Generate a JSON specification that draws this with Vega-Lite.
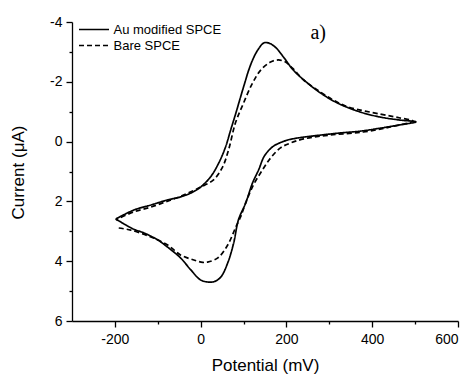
{
  "$schema": "https://vega.github.io/schema/vega-lite/v6.json",
  "width": 386,
  "height": 299,
  "autosize": {"type": "none"},
  "padding": {"left": 72, "top": 22, "right": 14, "bottom": 53},
  "background": "white",
  "config": {
    "view": {"stroke": null},
    "font": "Liberation Sans",
    "axis": {
      "domainColor": "black",
      "domainWidth": 1.3,
      "tickColor": "black",
      "tickWidth": 1.3,
      "tickSize": 6,
      "labelFontSize": 14,
      "labelColor": "black",
      "labelFont": "Liberation Sans",
      "titleFont": "Liberation Sans",
      "titleFontSize": 17,
      "titleFontWeight": "normal",
      "titleColor": "black",
      "grid": false
    }
  },
  "datasets": {
    "cv": [
      {"s": "Au modified SPCE", "i": 0, "x": -198, "y": 2.59},
      {"s": "Au modified SPCE", "i": 1, "x": -156, "y": 2.29},
      {"s": "Au modified SPCE", "i": 2, "x": -116, "y": 2.12},
      {"s": "Au modified SPCE", "i": 3, "x": -77, "y": 1.95},
      {"s": "Au modified SPCE", "i": 4, "x": -47, "y": 1.85},
      {"s": "Au modified SPCE", "i": 5, "x": -20, "y": 1.7},
      {"s": "Au modified SPCE", "i": 6, "x": 0, "y": 1.52},
      {"s": "Au modified SPCE", "i": 7, "x": 23, "y": 1.18},
      {"s": "Au modified SPCE", "i": 8, "x": 42, "y": 0.72},
      {"s": "Au modified SPCE", "i": 9, "x": 58, "y": 0.18},
      {"s": "Au modified SPCE", "i": 10, "x": 70, "y": -0.39},
      {"s": "Au modified SPCE", "i": 11, "x": 82, "y": -0.95},
      {"s": "Au modified SPCE", "i": 12, "x": 93, "y": -1.49},
      {"s": "Au modified SPCE", "i": 13, "x": 103, "y": -1.97},
      {"s": "Au modified SPCE", "i": 14, "x": 112, "y": -2.39},
      {"s": "Au modified SPCE", "i": 15, "x": 122, "y": -2.76},
      {"s": "Au modified SPCE", "i": 16, "x": 133, "y": -3.06},
      {"s": "Au modified SPCE", "i": 17, "x": 147, "y": -3.3},
      {"s": "Au modified SPCE", "i": 18, "x": 158, "y": -3.3},
      {"s": "Au modified SPCE", "i": 19, "x": 174, "y": -3.16},
      {"s": "Au modified SPCE", "i": 20, "x": 193, "y": -2.83},
      {"s": "Au modified SPCE", "i": 21, "x": 216, "y": -2.39},
      {"s": "Au modified SPCE", "i": 22, "x": 249, "y": -1.96},
      {"s": "Au modified SPCE", "i": 23, "x": 279, "y": -1.63},
      {"s": "Au modified SPCE", "i": 24, "x": 319, "y": -1.29},
      {"s": "Au modified SPCE", "i": 25, "x": 372, "y": -0.99},
      {"s": "Au modified SPCE", "i": 26, "x": 419, "y": -0.82},
      {"s": "Au modified SPCE", "i": 27, "x": 465, "y": -0.72},
      {"s": "Au modified SPCE", "i": 28, "x": 502, "y": -0.66},
      {"s": "Au modified SPCE", "i": 29, "x": 465, "y": -0.56},
      {"s": "Au modified SPCE", "i": 30, "x": 419, "y": -0.45},
      {"s": "Au modified SPCE", "i": 31, "x": 372, "y": -0.35},
      {"s": "Au modified SPCE", "i": 32, "x": 326, "y": -0.29},
      {"s": "Au modified SPCE", "i": 33, "x": 263, "y": -0.19},
      {"s": "Au modified SPCE", "i": 34, "x": 226, "y": -0.12},
      {"s": "Au modified SPCE", "i": 35, "x": 202, "y": -0.05},
      {"s": "Au modified SPCE", "i": 36, "x": 185, "y": 0.04},
      {"s": "Au modified SPCE", "i": 37, "x": 170, "y": 0.15},
      {"s": "Au modified SPCE", "i": 38, "x": 157, "y": 0.32},
      {"s": "Au modified SPCE", "i": 39, "x": 147, "y": 0.52},
      {"s": "Au modified SPCE", "i": 40, "x": 135, "y": 0.95},
      {"s": "Au modified SPCE", "i": 41, "x": 121, "y": 1.38},
      {"s": "Au modified SPCE", "i": 42, "x": 105, "y": 2.05},
      {"s": "Au modified SPCE", "i": 43, "x": 88, "y": 2.62},
      {"s": "Au modified SPCE", "i": 44, "x": 77, "y": 3.39},
      {"s": "Au modified SPCE", "i": 45, "x": 63, "y": 4.06},
      {"s": "Au modified SPCE", "i": 46, "x": 47, "y": 4.53},
      {"s": "Au modified SPCE", "i": 47, "x": 32, "y": 4.68},
      {"s": "Au modified SPCE", "i": 48, "x": 19, "y": 4.7},
      {"s": "Au modified SPCE", "i": 49, "x": 0, "y": 4.63},
      {"s": "Au modified SPCE", "i": 50, "x": -23, "y": 4.29},
      {"s": "Au modified SPCE", "i": 51, "x": -47, "y": 3.89},
      {"s": "Au modified SPCE", "i": 52, "x": -77, "y": 3.53},
      {"s": "Au modified SPCE", "i": 53, "x": -100, "y": 3.29},
      {"s": "Au modified SPCE", "i": 54, "x": -133, "y": 3.05},
      {"s": "Au modified SPCE", "i": 55, "x": -156, "y": 2.93},
      {"s": "Au modified SPCE", "i": 56, "x": -198, "y": 2.59},
      {"s": "Bare SPCE", "i": 0, "x": -191, "y": 2.89},
      {"s": "Bare SPCE", "i": 1, "x": -163, "y": 2.96},
      {"s": "Bare SPCE", "i": 2, "x": -116, "y": 3.19},
      {"s": "Bare SPCE", "i": 3, "x": -77, "y": 3.46},
      {"s": "Bare SPCE", "i": 4, "x": -47, "y": 3.79},
      {"s": "Bare SPCE", "i": 5, "x": -16, "y": 3.96},
      {"s": "Bare SPCE", "i": 6, "x": 5, "y": 4.04},
      {"s": "Bare SPCE", "i": 7, "x": 16, "y": 4.03},
      {"s": "Bare SPCE", "i": 8, "x": 40, "y": 3.89},
      {"s": "Bare SPCE", "i": 9, "x": 63, "y": 3.46},
      {"s": "Bare SPCE", "i": 10, "x": 81, "y": 2.89},
      {"s": "Bare SPCE", "i": 11, "x": 93, "y": 2.52},
      {"s": "Bare SPCE", "i": 12, "x": 105, "y": 2.05},
      {"s": "Bare SPCE", "i": 13, "x": 123, "y": 1.45},
      {"s": "Bare SPCE", "i": 14, "x": 144, "y": 0.95},
      {"s": "Bare SPCE", "i": 15, "x": 163, "y": 0.55},
      {"s": "Bare SPCE", "i": 16, "x": 186, "y": 0.21},
      {"s": "Bare SPCE", "i": 17, "x": 209, "y": 0.05},
      {"s": "Bare SPCE", "i": 18, "x": 240, "y": -0.09},
      {"s": "Bare SPCE", "i": 19, "x": 302, "y": -0.22},
      {"s": "Bare SPCE", "i": 20, "x": 379, "y": -0.32},
      {"s": "Bare SPCE", "i": 21, "x": 442, "y": -0.49},
      {"s": "Bare SPCE", "i": 22, "x": 495, "y": -0.69},
      {"s": "Bare SPCE", "i": 23, "x": 465, "y": -0.79},
      {"s": "Bare SPCE", "i": 24, "x": 419, "y": -0.92},
      {"s": "Bare SPCE", "i": 25, "x": 344, "y": -1.16},
      {"s": "Bare SPCE", "i": 26, "x": 309, "y": -1.39},
      {"s": "Bare SPCE", "i": 27, "x": 272, "y": -1.73},
      {"s": "Bare SPCE", "i": 28, "x": 240, "y": -2.06},
      {"s": "Bare SPCE", "i": 29, "x": 214, "y": -2.46},
      {"s": "Bare SPCE", "i": 30, "x": 198, "y": -2.66},
      {"s": "Bare SPCE", "i": 31, "x": 181, "y": -2.73},
      {"s": "Bare SPCE", "i": 32, "x": 163, "y": -2.66},
      {"s": "Bare SPCE", "i": 33, "x": 140, "y": -2.39},
      {"s": "Bare SPCE", "i": 34, "x": 121, "y": -1.96},
      {"s": "Bare SPCE", "i": 35, "x": 100, "y": -1.29},
      {"s": "Bare SPCE", "i": 36, "x": 81, "y": -0.62},
      {"s": "Bare SPCE", "i": 37, "x": 65, "y": 0.28},
      {"s": "Bare SPCE", "i": 38, "x": 51, "y": 0.85},
      {"s": "Bare SPCE", "i": 39, "x": 30, "y": 1.28},
      {"s": "Bare SPCE", "i": 40, "x": 0, "y": 1.52},
      {"s": "Bare SPCE", "i": 41, "x": -40, "y": 1.79},
      {"s": "Bare SPCE", "i": 42, "x": -77, "y": 1.99},
      {"s": "Bare SPCE", "i": 43, "x": -116, "y": 2.19},
      {"s": "Bare SPCE", "i": 44, "x": -156, "y": 2.35},
      {"s": "Bare SPCE", "i": 45, "x": -198, "y": 2.62}
    ],
    "ann": [{"x": 274, "y": -3.63, "label": "a)"}]
  },
  "layer": [
    {
      "data": {"name": "cv"},
      "mark": {"type": "line", "interpolate": "catmull-rom", "color": "black", "strokeWidth": 1.7},
      "encoding": {
        "x": {
          "field": "x", "type": "quantitative",
          "scale": {"domain": [-300, 600], "nice": false, "zero": false},
          "axis": {"orient": "bottom", "values": [-200, 0, 200, 400, 600], "labelExpr": "'' + datum.value", "labelPadding": 5, "title": "Potential (mV)", "titleY": 49, "titleBaseline": "alphabetic"}
        },
        "y": {
          "field": "y", "type": "quantitative",
          "scale": {"domain": [-4, 6], "reverse": true, "nice": false, "zero": false},
          "axis": {"orient": "left", "values": [-4, -2, 0, 2, 4, 6], "labelExpr": "'' + datum.value", "labelPadding": 4, "title": "Current (μA)", "titleX": -54, "titleY": 150, "titleAlign": "center", "titleBaseline": "middle", "titleAngle": -90}
        },
        "strokeDash": {
          "field": "s", "type": "nominal",
          "scale": {"domain": ["Au modified SPCE", "Bare SPCE"], "range": [[1, 0], [5, 3]]},
          "legend": {"orient": "none", "legendX": 13.5, "legendY": -1, "title": null, "padding": 0, "symbolType": "M-2,0H2", "symbolSize": 225, "symbolStrokeWidth": 1.6, "symbolStrokeColor": "black", "symbolFillColor": "transparent", "labelFontSize": 13, "labelColor": "black", "labelFont": "Liberation Sans", "labelOffset": 11, "rowPadding": 0}
        },
        "order": {"field": "i", "type": "quantitative"}
      }
    },
    {
      "data": {"name": "cv"},
      "mark": {"type": "point", "opacity": 0},
      "encoding": {
        "x": {"field": "x", "type": "quantitative", "axis": {"orient": "bottom", "values": [-100, 100, 300, 500], "labels": false, "tickSize": 3, "domain": false, "title": null}},
        "y": {"field": "y", "type": "quantitative", "axis": {"orient": "left", "values": [-3, -1, 1, 3, 5], "labels": false, "tickSize": 3, "domain": false, "title": null}}
      }
    },
    {
      "data": {"name": "ann"},
      "mark": {"type": "text", "font": "Liberation Serif", "fontSize": 20, "color": "black"},
      "encoding": {
        "x": {"field": "x", "type": "quantitative", "axis": null},
        "y": {"field": "y", "type": "quantitative", "axis": null},
        "text": {"field": "label"}
      }
    }
  ],
  "resolve": {"axis": {"x": "independent", "y": "independent"}}
}
